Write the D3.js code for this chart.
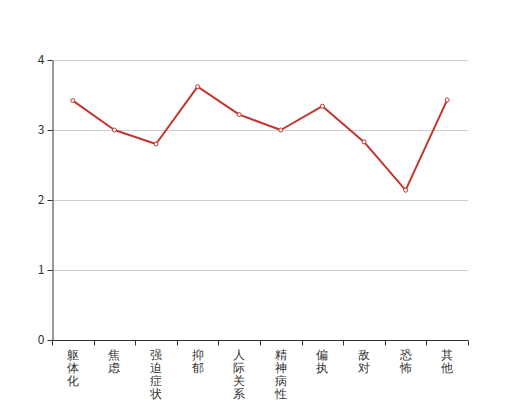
<!DOCTYPE html>
<html><head><meta charset="utf-8">
<script src="https://cdn.jsdelivr.net/npm/d3@7"></script>
<style>body{margin:0;background:#fff;} svg{display:block;font-family:"Noto Sans CJK SC",sans-serif;}</style>
</head><body>
<svg id="c" width="520" height="400"></svg>
<script>
const categories = ["躯体化","焦虑","强迫症状","抑郁","人际关系敏感","精神病性","偏执","敌对","恐怖","其他"];
const values = [3.42,3.00,2.80,3.62,3.22,3.00,3.34,2.83,2.14,3.43];
const yTicks = [0,1,2,3,4];

const svg = d3.select("#c");
const m = {l:52, r:52, t:60, b:60};
const W = 520, H = 400;
const x = d3.scaleBand().domain(categories).range([m.l, W - m.r]);
const y = d3.scaleLinear().domain([0,4]).range([H - m.b, m.t]);

// grid
svg.append("g").selectAll("line").data(yTicks.filter(d=>d>0)).join("line")
  .attr("x1", m.l).attr("x2", W - m.r)
  .attr("y1", d=>y(d)+0.5).attr("y2", d=>y(d)+0.5)
  .attr("stroke", "#ccc").attr("stroke-width", 1);

// y axis
const ya = svg.append("g").attr("transform", `translate(${m.l+0.5},0)`)
  .call(d3.axisLeft(y).tickValues(yTicks).tickFormat(d3.format("d")).tickSize(5).tickPadding(3).tickSizeOuter(0));
ya.select(".domain").attr("stroke", "#333");
ya.selectAll(".tick line").attr("stroke", "#333");
ya.selectAll(".tick text").attr("fill", "#333").attr("font-size", 12).attr("font-family", "'Noto Sans CJK SC',sans-serif");

// x axis
const xa = svg.append("g").attr("transform", `translate(0,${H - m.b + 0.5})`)
  .call(d3.axisBottom(x).tickSize(0).tickFormat(""));
xa.select(".domain").attr("stroke", "#333").attr("d", `M${m.l},0H${W - m.r}`);
const bounds = categories.map(c => x(c)).concat([x(categories[categories.length-1]) + x.bandwidth()]);
xa.append("g").selectAll("line").data(bounds).join("line")
  .attr("x1", d=>Math.round(d)+0.5).attr("x2", d=>Math.round(d)+0.5)
  .attr("y1", 0).attr("y2", 5).attr("stroke", "#333");
const lab = xa.append("g").selectAll("text").data(categories).join("text")
  .attr("fill", "#333").attr("font-size", 12).attr("text-anchor", "middle")
  .attr("transform", d=>`translate(${x(d)+x.bandwidth()/2},0)`);
lab.selectAll("tspan").data(d=>d.split("")).join("tspan")
  .attr("x", 0).attr("y", (d,i)=>18 + i*13.3).text(d=>d);

// line
const line = d3.line().x((d,i)=>x(categories[i])+x.bandwidth()/2).y(d=>y(d));
svg.append("path").datum(values).attr("d", line)
  .attr("fill", "none").attr("stroke", "#c23531").attr("stroke-width", 2).attr("stroke-linejoin", "round");
svg.append("g").selectAll("circle").data(values).join("circle")
  .attr("cx", (d,i)=>x(categories[i])+x.bandwidth()/2).attr("cy", d=>y(d))
  .attr("r", 2).attr("fill", "#fff").attr("stroke", "#c23531").attr("stroke-width", 1);
</script>
</body></html>
